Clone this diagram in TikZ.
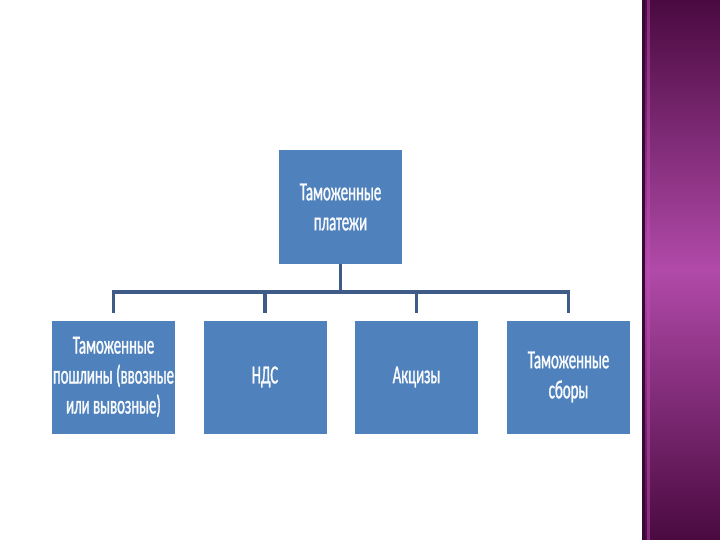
\documentclass[tikz,border=0pt]{standalone}
\usepackage{fontspec}
\setmainfont{Carlito}
\newfontfamily\boxfont[FakeStretch=0.57,FakeBold=1.2]{Carlito}
\definecolor{boxblue}{HTML}{4F81BD}
\definecolor{connblue}{HTML}{3F5C88}
\definecolor{plumdark}{HTML}{4A0A40}
\definecolor{plumlight}{HTML}{B14AA9}
\definecolor{plumedge}{HTML}{3A0834}
\definecolor{plumpink}{HTML}{C24DB8}
\tikzset{
  box/.style={rectangle, fill=boxblue, minimum width=123pt, minimum height=113pt,
    text=white!96!boxblue, align=center, inner sep=0pt,
    font=\boxfont\fontsize{26}{30}\selectfont},
  conn/.style={draw=connblue, line width=3.5pt, line join=miter},
}
\begin{document}
\begin{tikzpicture}[x=1pt,y=-1pt]
\useasboundingbox (0,0) rectangle (720,540);
\fill[white] (0,0) rectangle (720,540);
% purple strip
\shade[top color=plumdark, bottom color=plumdark, middle color=plumlight] (642,0) rectangle (720,540);
\fill[plumedge] (642,0) rectangle (644.5,540);
\fill[plumpink, opacity=0.5] (647,0) rectangle (650,540);
% nodes
\node[box] (top) at (340.5,207) {Таможенные\\платежи};
\node[box] (b1) at (113.5,377) {Таможенные\\пошлины (ввозные\\или вывозные)};
\node[box] (b2) at (265,377) {НДС};
\node[box] (b3) at (416.5,377) {Акцизы};
\node[box] (b4) at (568.5,377) {Таможенные\\сборы};
% connectors
\coordinate (j) at (340.5,292);
\coordinate (d1) at (113.5,313);
\coordinate (d2) at (265,313);
\coordinate (d3) at (416.5,313);
\coordinate (d4) at (568.5,313);
\draw[conn] (top.south) -- (j);
\draw[conn] (j) -| (d1);
\draw[conn] (j) -| (d2);
\draw[conn] (j) -| (d3);
\draw[conn] (j) -| (d4);
\end{tikzpicture}
\end{document}
